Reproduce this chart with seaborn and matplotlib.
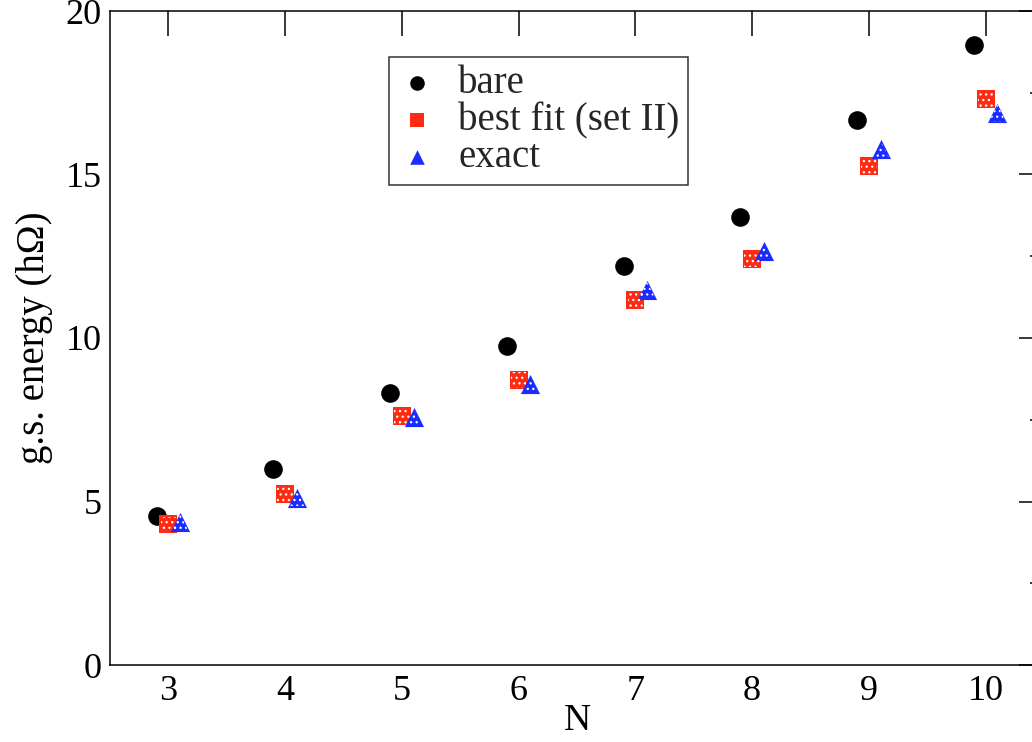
import numpy as np
import pandas as pd
import matplotlib
matplotlib.use("Agg")
import matplotlib.pyplot as plt
import seaborn as sns

# ---- data ----
N = [3, 4, 5, 6, 7, 8, 9, 10]
bare = [4.56, 5.98, 8.31, 9.77, 12.20, 13.69, 16.67, 18.97]
best_fit = [4.30, 5.22, 7.61, 8.72, 11.16, 12.42, 15.25, 17.31]
exact = [4.36, 5.12, 7.59, 8.58, 11.46, 12.66, 15.78, 16.88]
series_names = ["bare", "best fit (set II)", "exact"]
x_ticks = [3, 4, 5, 6, 7, 8, 9, 10]
y_ticks = [0, 5, 10, 15, 20]

sns.set_theme(style="white")
plt.rcParams["font.family"] = ["Liberation Serif", "DejaVu Serif"]
plt.rcParams["hatch.linewidth"] = 0.9

offsets = {"bare": -0.1, "best fit (set II)": 0.0, "exact": 0.1}
rows = []
for name, vals in zip(series_names, [bare, best_fit, exact]):
    for n, v in zip(N, vals):
        rows.append({"N": n, "x": n + offsets[name], "E": v, "series": name})
df = pd.DataFrame(rows)

palette = {"bare": "black", "best fit (set II)": "#ff2a12", "exact": "#1a2cff"}
markers = {"bare": "o", "best fit (set II)": "s", "exact": "^"}
sizes = {"bare": 180, "best fit (set II)": 170, "exact": 190}

fig = plt.figure(figsize=(10.32, 7.42), dpi=100)
ax = fig.add_axes([110 / 1032, 77 / 742, 934 / 1032, 654 / 742])

for name in series_names:
    sub = df[df["series"] == name]
    sns.scatterplot(data=sub, x="x", y="E", ax=ax, color=palette[name],
                    marker=markers[name], s=sizes[name], linewidth=0,
                    label=name, zorder=3)
    if name != "bare":
        # white dotted pattern overlay
        ax.scatter(sub["x"], sub["E"], marker=markers[name], s=sizes[name] * 0.75,
                   facecolor="none", edgecolor="white", linewidths=0,
                   hatch="...", zorder=4)

ax.set_xlim(2.5, 10.5)
ax.set_ylim(0, 20)
ax.set_xticks(x_ticks)
ax.set_yticks(y_ticks)
ax.set_xticklabels([str(t) for t in x_ticks])
ax.set_yticklabels([str(t) for t in y_ticks])
ax.xaxis.set_minor_locator(matplotlib.ticker.NullLocator())
ax.yaxis.set_minor_locator(matplotlib.ticker.FixedLocator(np.arange(2.5, 20, 5)))

ax.tick_params(which="both", direction="in", top=True, right=True,
               color="black", width=1.1, labelsize=26, colors="black")
ax.tick_params(which="major", length=18)
ax.tick_params(which="minor", length=10)
ax.tick_params(axis="x", pad=7)
ax.tick_params(axis="y", pad=6)
for sp in ax.spines.values():
    sp.set_color("black")
    sp.set_linewidth(1.1)

ax.set_xlabel("N", fontsize=27, labelpad=-3, color="black")
ax.set_ylabel("g.s. energy (h\u03a9)", fontsize=28, labelpad=9, color="black")

leg = ax.legend(loc="upper left", bbox_to_anchor=(0.299, 0.93), fontsize=28,
                frameon=True, fancybox=False, edgecolor="black",
                handletextpad=0.55, borderpad=0.22, labelspacing=0.0,
                handlelength=1.0, borderaxespad=0)
leg.get_frame().set_linewidth(1.1)
for h in leg.legend_handles:
    h.set_sizes([110])

fig.text(0.0, 1.0, ")", fontsize=34, ha="right", va="top", fontstyle="italic")

fig.savefig("out.png", dpi=100)
